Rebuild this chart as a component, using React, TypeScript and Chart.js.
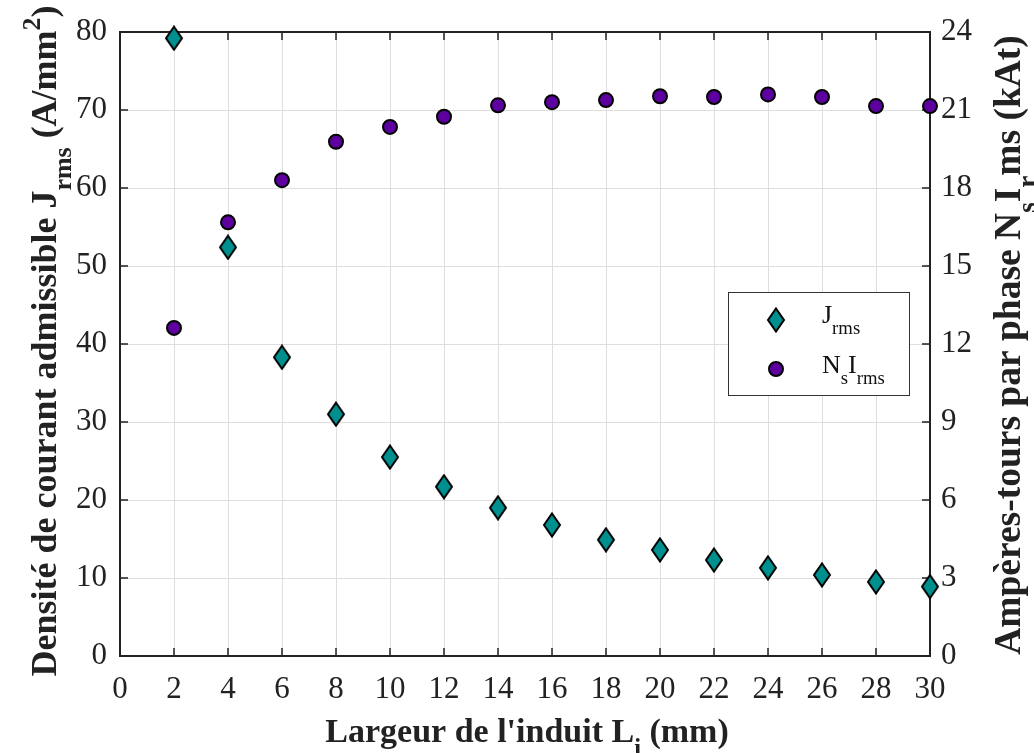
import React, { useEffect, useRef } from "react";
import { Chart, registerables } from "chart.js";

Chart.register(...registerables);

const widths = [2, 4, 6, 8, 10, 12, 14, 16, 18, 20, 22, 24, 26, 28, 30];
const jrms = [79.2, 52.4, 38.3, 31.0, 25.5, 21.7, 19.0, 16.8, 14.9, 13.6, 12.3, 11.3, 10.4, 9.5, 8.9];
const nsIrms = [12.62, 16.68, 18.3, 19.78, 20.35, 20.74, 21.18, 21.3, 21.38, 21.53, 21.5, 21.6, 21.5, 21.15, 21.15];
const xTicks = [0, 2, 4, 6, 8, 10, 12, 14, 16, 18, 20, 22, 24, 26, 28, 30];
const leftTicks = [0, 10, 20, 30, 40, 50, 60, 70, 80];
const rightTicks = [0, 3, 6, 9, 12, 15, 18, 21, 24];

const TEAL = "#008f8f";
const PURPLE = "#5e00a0";
const FONT = "'Liberation Serif', 'Times New Roman', serif";

type Seg = { t: string; m?: "sub" | "sup" };

function makeDiamond(): HTMLCanvasElement {
  const c = document.createElement("canvas");
  c.width = 20;
  c.height = 26;
  const g = c.getContext("2d")!;
  g.beginPath();
  g.moveTo(10, 1.5);
  g.lineTo(18, 13);
  g.lineTo(10, 24.5);
  g.lineTo(2, 13);
  g.closePath();
  g.fillStyle = TEAL;
  g.fill();
  g.lineWidth = 2;
  g.strokeStyle = "#000";
  g.lineJoin = "miter";
  g.stroke();
  return c;
}

function richWidth(ctx: CanvasRenderingContext2D, segs: Seg[], size: number, weight: string) {
  let w = 0;
  for (const s of segs) {
    const fs = s.m ? size * 0.72 : size;
    ctx.font = `${weight} ${fs}px ${FONT}`;
    w += ctx.measureText(s.t).width;
  }
  return w;
}

function drawRich(ctx: CanvasRenderingContext2D, segs: Seg[], x: number, y: number, size: number, weight: string) {
  let cx = x;
  ctx.textBaseline = "alphabetic";
  ctx.textAlign = "left";
  for (const s of segs) {
    const fs = s.m ? size * 0.72 : size;
    ctx.font = `${weight} ${fs}px ${FONT}`;
    let dy = 0;
    if (s.m === "sub") dy = size * 0.42;
    if (s.m === "sup") dy = -size * 0.45;
    ctx.fillText(s.t, cx, y + dy);
    cx += ctx.measureText(s.t).width;
  }
}

const xTitle: Seg[] = [{ t: "Largeur de l'induit L" }, { t: "i", m: "sub" }, { t: " (mm)" }];
const yTitle: Seg[] = [
  { t: "Densité de courant admissible J" },
  { t: "rms", m: "sub" },
  { t: " (A/mm" },
  { t: "2", m: "sup" },
  { t: ")" },
];
const y2Title: Seg[] = [
  { t: "Ampères-tours par phase N" },
  { t: "s", m: "sub" },
  { t: "I" },
  { t: "r", m: "sub" },
  { t: "ms (kAt)" },
];

export default function App() {
  const ref = useRef<HTMLCanvasElement | null>(null);

  useEffect(() => {
    if (!ref.current) return;
    const diamond = makeDiamond();

    const framePlugin = {
      id: "frame",
      beforeDatasetsDraw(chart: any) {
        const { ctx, chartArea: a, scales } = chart;
        ctx.save();
        ctx.strokeStyle = "#222";
        ctx.lineWidth = 2;
        ctx.strokeRect(a.left, a.top, a.right - a.left, a.bottom - a.top);
        ctx.lineWidth = 1.5;
        const tl = 8;
        ctx.beginPath();
        for (const v of xTicks) {
          const px = scales.x.getPixelForValue(v);
          ctx.moveTo(px, a.bottom);
          ctx.lineTo(px, a.bottom - tl);
          ctx.moveTo(px, a.top);
          ctx.lineTo(px, a.top + tl);
        }
        for (const v of leftTicks) {
          const py = scales.y.getPixelForValue(v);
          ctx.moveTo(a.left, py);
          ctx.lineTo(a.left + tl, py);
        }
        for (const v of rightTicks) {
          const py = scales.y2.getPixelForValue(v);
          ctx.moveTo(a.right, py);
          ctx.lineTo(a.right - tl, py);
        }
        ctx.stroke();
        ctx.restore();
      },
      afterDraw(chart: any) {
        const { ctx } = chart;
        ctx.save();
        ctx.fillStyle = "#222";
        // x title
        const xs = 34;
        const xw = richWidth(ctx, xTitle, xs, "bold");
        drawRich(ctx, xTitle, 527 - xw / 2, 742, xs, "bold");
        // left title
        const ys = 36;
        const yw = richWidth(ctx, yTitle, ys, "bold");
        ctx.save();
        ctx.translate(56, 341);
        ctx.rotate(-Math.PI / 2);
        drawRich(ctx, yTitle, -yw / 2, 0, ys, "bold");
        ctx.restore();
        // right title
        const y2s = 37.5;
        const y2w = richWidth(ctx, y2Title, y2s, "bold");
        ctx.save();
        ctx.translate(1020, 345);
        ctx.rotate(-Math.PI / 2);
        drawRich(ctx, y2Title, -y2w / 2, 0, y2s, "bold");
        ctx.restore();

        // legend
        const lx = 728, ly = 292, lw = 181, lh = 103;
        ctx.fillStyle = "#fff";
        ctx.fillRect(lx, ly, lw, lh);
        ctx.strokeStyle = "#333";
        ctx.lineWidth = 1;
        ctx.strokeRect(lx + 0.5, ly + 0.5, lw, lh);
        ctx.drawImage(diamond, 776 - diamond.width / 2, 320 - diamond.height / 2);
        ctx.beginPath();
        ctx.arc(776, 369, 7, 0, Math.PI * 2);
        ctx.fillStyle = PURPLE;
        ctx.fill();
        ctx.lineWidth = 2;
        ctx.strokeStyle = "#000";
        ctx.stroke();
        ctx.fillStyle = "#111";
        drawRich(ctx, [{ t: "J" }, { t: "rms", m: "sub" }], 822, 323, 26, "normal");
        drawRich(ctx, [{ t: "N" }, { t: "s", m: "sub" }, { t: "I" }, { t: "rms", m: "sub" }], 822, 373, 26, "normal");
        ctx.restore();
      },
    };

    const tickFont = { family: FONT, size: 31 };

    const chart = new Chart(ref.current, {
      type: "scatter",
      data: {
        datasets: [
          {
            label: "Jrms",
            data: widths.map((x, i) => ({ x, y: jrms[i] })),
            yAxisID: "y",
            pointStyle: diamond as any,
            pointRadius: 10,
            showLine: false,
            clip: false as any,
          },
          {
            label: "NsIrms",
            data: widths.map((x, i) => ({ x, y: nsIrms[i] })),
            yAxisID: "y2",
            pointStyle: "circle",
            pointRadius: 7,
            pointBackgroundColor: PURPLE,
            pointBorderColor: "#000",
            pointBorderWidth: 2,
            showLine: false,
            clip: false as any,
          },
        ],
      },
      options: {
        animation: false,
        responsive: false,
        maintainAspectRatio: false,
        layout: { padding: { top: 32, left: 0, right: 0, bottom: 0 } },
        plugins: { legend: { display: false }, tooltip: { enabled: false } },
        scales: {
          x: {
            type: "linear",
            min: 0,
            max: 30,
            afterBuildTicks: (s: any) => {
              s.ticks = xTicks.map((v) => ({ value: v }));
            },
            afterFit: (s: any) => {
              s.height = 97;
            },
            grid: { color: "#dedede", lineWidth: 1, drawTicks: false },
            border: { display: false },
            ticks: { font: tickFont, color: "#222", padding: 15, maxRotation: 0, autoSkip: false },
          },
          y: {
            type: "linear",
            position: "left",
            min: 0,
            max: 80,
            afterBuildTicks: (s: any) => {
              s.ticks = leftTicks.map((v) => ({ value: v }));
            },
            afterFit: (s: any) => {
              s.width = 120;
            },
            grid: { color: "#dedede", lineWidth: 1, drawTicks: false },
            border: { display: false },
            ticks: { font: tickFont, color: "#222", padding: 13 },
          },
          y2: {
            type: "linear",
            position: "right",
            min: 0,
            max: 24,
            afterBuildTicks: (s: any) => {
              s.ticks = rightTicks.map((v) => ({ value: v }));
            },
            afterFit: (s: any) => {
              s.width = 104;
            },
            grid: { drawOnChartArea: false, drawTicks: false },
            border: { display: false },
            ticks: { font: tickFont, color: "#222", padding: 11 },
          },
        },
      } as any,
      plugins: [framePlugin],
    });
    return () => chart.destroy();
  }, []);

  return (
    <div style={{ position: "fixed", left: 0, top: 0, width: 1034, height: 753, background: "#fff" }}>
      <canvas ref={ref} width={1034} height={753} style={{ width: 1034, height: 753, display: "block" }} />
    </div>
  );
}
